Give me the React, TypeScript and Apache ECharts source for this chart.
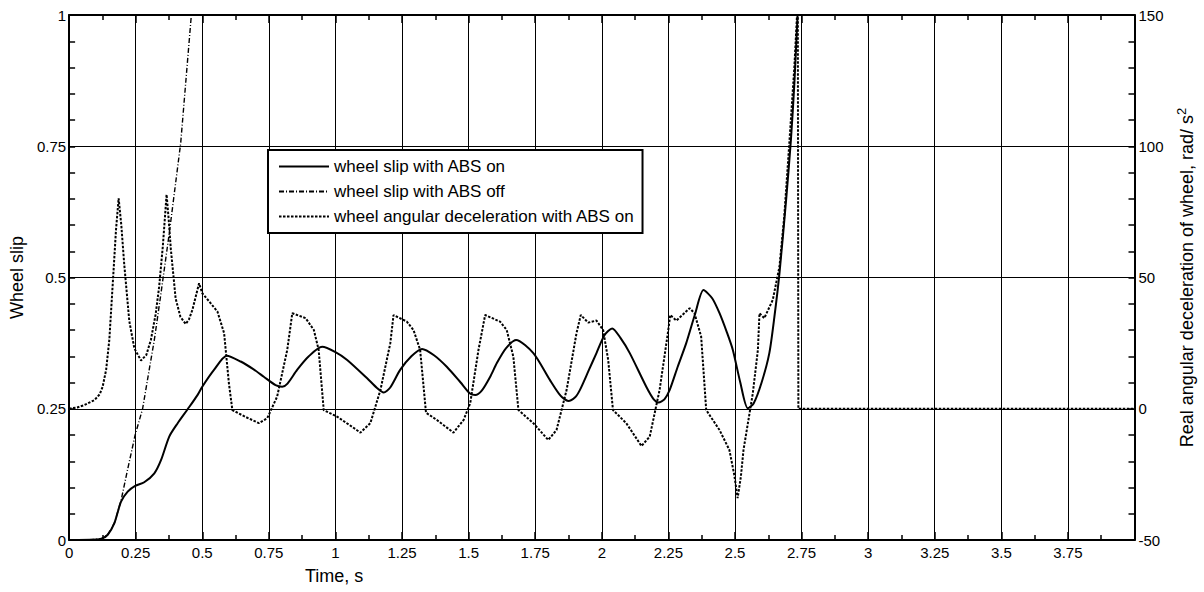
import React, { useEffect, useRef } from "react";
import * as echarts from "echarts";

// ---- Data ----
const timeTickLabels = ["0", "0.25", "0.5", "0.75", "1", "1.25", "1.5", "1.75", "2", "2.25", "2.5", "2.75", "3", "3.25", "3.5", "3.75"];
const slipTickLabels = ["0", "0.25", "0.5", "0.75", "1"];
const decelTickLabels = ["-50", "0", "50", "100", "150"];

const seriesNames = [
  "wheel slip with ABS on",
  "wheel slip with ABS off",
  "wheel angular deceleration with ABS on",
];

// wheel slip with ABS on  [time s, slip]
const slipAbsOn: [number, number][] = [
  [0, 0], [0.1, 0.001], [0.124, 0.003], [0.145, 0.01], [0.17, 0.032], [0.195, 0.073], [0.22, 0.092],
  [0.248, 0.103], [0.282, 0.11], [0.32, 0.127], [0.345, 0.152], [0.376, 0.197], [0.407, 0.222],
  [0.445, 0.249], [0.482, 0.276], [0.5, 0.292], [0.544, 0.324], [0.592, 0.351], [0.644, 0.34],
  [0.69, 0.326], [0.731, 0.311], [0.775, 0.295], [0.8, 0.292], [0.82, 0.298], [0.856, 0.324],
  [0.9, 0.35], [0.95, 0.368], [1.0, 0.358], [1.044, 0.343], [1.119, 0.308], [1.155, 0.29],
  [1.181, 0.281], [1.205, 0.29], [1.243, 0.324], [1.285, 0.35], [1.325, 0.364], [1.37, 0.352],
  [1.418, 0.33], [1.47, 0.3], [1.505, 0.279], [1.525, 0.276], [1.55, 0.285], [1.58, 0.31],
  [1.606, 0.337], [1.64, 0.365], [1.678, 0.381], [1.743, 0.356], [1.805, 0.305], [1.845, 0.275],
  [1.874, 0.265], [1.9, 0.272], [1.918, 0.286], [1.95, 0.322], [1.98, 0.356], [2.01, 0.39],
  [2.039, 0.403], [2.07, 0.385], [2.105, 0.356], [2.167, 0.292], [2.195, 0.268], [2.213, 0.262],
  [2.235, 0.268], [2.255, 0.286], [2.285, 0.33], [2.317, 0.375], [2.35, 0.43], [2.382, 0.476],
  [2.415, 0.46], [2.442, 0.432], [2.47, 0.395], [2.492, 0.362], [2.52, 0.3], [2.548, 0.251],
  [2.57, 0.26], [2.6, 0.3], [2.629, 0.356], [2.648, 0.425], [2.667, 0.508], [2.692, 0.648],
  [2.71, 0.762], [2.723, 0.87], [2.735, 1.0],
];

// wheel slip with ABS off  [time s, slip]
const slipAbsOff: [number, number][] = [
  [0, 0], [0.1, 0.001], [0.124, 0.003], [0.145, 0.01], [0.17, 0.032], [0.195, 0.075], [0.22, 0.135],
  [0.248, 0.2], [0.276, 0.25], [0.3, 0.322], [0.32, 0.381], [0.345, 0.47], [0.376, 0.584],
  [0.4, 0.68], [0.419, 0.756], [0.44, 0.884], [0.459, 1.0],
];

// wheel angular deceleration with ABS on  [time s, rad/s^2]
const decelAbsOn: [number, number][] = [
  [0, 0], [0.03, 0.5], [0.057, 1.4], [0.095, 3.3], [0.115, 5.5], [0.126, 8.4], [0.139, 14.8],
  [0.151, 26.2], [0.164, 47.8], [0.176, 68], [0.186, 80.2], [0.196, 70], [0.207, 55], [0.226, 33.4],
  [0.245, 23], [0.27, 18.4], [0.29, 20.5], [0.307, 26.2], [0.325, 36], [0.338, 46.4], [0.352, 62],
  [0.366, 81.6], [0.374, 72], [0.382, 60.8], [0.4, 42], [0.418, 35], [0.438, 32.3], [0.45, 34],
  [0.463, 37.7], [0.488, 47.8], [0.5, 44], [0.525, 41], [0.557, 37], [0.582, 28.8], [0.6, 9.7],
  [0.613, -0.5], [0.66, -3], [0.713, -5.5], [0.744, -3.6], [0.781, 4.6], [0.819, 22.4],
  [0.838, 36.4], [0.888, 34.5], [0.919, 30], [0.937, 22.4], [0.956, -0.5], [1.006, -3],
  [1.05, -6], [1.094, -9.1], [1.131, -5.5], [1.169, 7.2], [1.206, 25], [1.218, 35.7],
  [1.268, 33.2], [1.293, 30], [1.318, 22.4], [1.34, -1.5], [1.381, -4.3], [1.443, -9.1],
  [1.481, -4.3], [1.506, 2.1], [1.537, 22.4], [1.562, 35.7], [1.618, 33.2], [1.643, 30],
  [1.668, 19.8], [1.687, -0.5], [1.743, -5.5], [1.799, -11.9], [1.83, -8.1], [1.868, 7.2],
  [1.905, 28.8], [1.921, 35.7], [1.949, 32.8], [1.98, 33.6], [2.005, 30], [2.024, 18.6],
  [2.042, -0.5], [2.092, -5.5], [2.149, -14.2], [2.18, -10.6], [2.217, 7.2], [2.248, 28.8],
  [2.257, 35.7], [2.28, 33.6], [2.33, 38.3], [2.348, 36.4], [2.373, 27.5], [2.392, -0.5],
  [2.442, -8.1], [2.479, -15.7], [2.497, -25], [2.51, -34], [2.522, -26], [2.532, -15.7],
  [2.567, 5.9], [2.586, 22.4], [2.592, 36.4], [2.61, 34.5], [2.642, 41.5], [2.667, 54.1],
  [2.685, 73.2], [2.704, 101.1], [2.723, 130.3], [2.733, 150], [2.736, 150], [2.738, 0], [4, 0],
];

const FONT = "'Liberation Sans', Arial, sans-serif";

export default function App() {
  const ref = useRef<HTMLDivElement>(null);

  useEffect(() => {
    if (!ref.current) return;
    const chart = echarts.init(ref.current, undefined, { renderer: "svg" });

    const axisLine = { show: true, onZero: false, lineStyle: { color: "#000", width: 2 } };
    const labelStyle = { color: "#000", fontSize: 15, fontFamily: FONT };

    chart.setOption({
      animation: false,
      backgroundColor: "#fff",
      textStyle: { fontFamily: FONT, color: "#000" },
      grid: { left: 68, right: 68, top: 15, bottom: 52, containLabel: false },
      legend: {
        data: seriesNames,
        orient: "vertical",
        left: 268,
        top: 150,
        backgroundColor: "#fff",
        borderColor: "#000",
        borderWidth: 2,
        borderRadius: 0,
        padding: [8, 8, 8, 10],
        itemGap: 8,
        itemWidth: 50,
        itemHeight: 15,
        itemStyle: { opacity: 0 },
        textStyle: { fontSize: 17, color: "#000", fontFamily: FONT },
      },
      xAxis: [
        {
          type: "value",
          min: 0,
          max: 4,
          interval: 0.25,
          position: "bottom",
          axisLine,
          axisTick: { show: true, inside: true, length: 8, lineStyle: { color: "#000", width: 1.5 } },
          minorTick: { show: true, splitNumber: 2, length: 5, lineStyle: { color: "#000", width: 1.5 } },
          splitLine: { show: true, lineStyle: { color: "#000", width: 1 } },
          axisLabel: {
            ...labelStyle,
            margin: 5,
            formatter: (v: number) => {
              const i = Math.round(v / 0.25);
              return i < timeTickLabels.length ? timeTickLabels[i] : "";
            },
          },
        },
        {
          type: "value",
          min: 0,
          max: 4,
          interval: 0.25,
          position: "top",
          axisLine,
          axisTick: { show: true, inside: true, length: 8, lineStyle: { color: "#000", width: 1.5 } },
          minorTick: { show: true, splitNumber: 2, length: 5, lineStyle: { color: "#000", width: 1.5 } },
          splitLine: { show: false },
          axisLabel: { show: false },
        },
      ],
      yAxis: [
        {
          type: "value",
          min: 0,
          max: 1,
          interval: 0.25,
          position: "left",
          name: "Wheel slip",
          nameLocation: "middle",
          nameRotate: 90,
          nameGap: 38,
          nameTextStyle: { fontSize: 18, color: "#000", fontFamily: FONT },
          axisLine,
          axisTick: { show: true, inside: true, length: 6, lineStyle: { color: "#000", width: 1.5 } },
          minorTick: { show: true, splitNumber: 5, length: 6, lineStyle: { color: "#000", width: 1.5 } },
          splitLine: { show: true, lineStyle: { color: "#000", width: 1 } },
          axisLabel: {
            ...labelStyle,
            margin: 3,
            formatter: (v: number) => slipTickLabels[Math.round(v / 0.25)] ?? "",
          },
        },
        {
          type: "value",
          min: -50,
          max: 150,
          interval: 50,
          position: "right",
          name: "Real angular deceleration of wheel, rad/ s{sup|2}",
          nameLocation: "middle",
          nameRotate: 90,
          nameGap: 40,
          nameTextStyle: {
            fontSize: 18,
            color: "#000",
            fontFamily: FONT,
            rich: { sup: { fontSize: 13, color: "#000", fontFamily: FONT, padding: [0, 0, 12, 0] } },
          },
          axisLine,
          axisTick: { show: true, inside: true, length: 6, lineStyle: { color: "#000", width: 1.5 } },
          minorTick: { show: true, splitNumber: 5, length: 6, lineStyle: { color: "#000", width: 1.5 } },
          splitLine: { show: false },
          axisLabel: {
            ...labelStyle,
            margin: 4,
            formatter: (v: number) => decelTickLabels[Math.round((v + 50) / 50)] ?? "",
          },
        },
      ],
      graphic: [
        {
          type: "text",
          left: 305,
          top: 567,
          style: { text: "Time, s", fontSize: 18, fill: "#000", fontFamily: FONT },
        },
      ],
      series: [
        {
          name: seriesNames[0],
          type: "line",
          xAxisIndex: 0,
          yAxisIndex: 0,
          data: slipAbsOn,
          symbol: "none",
          smooth: 0.25,
          clip: true,
          lineStyle: { color: "#000", width: 2, type: "solid" },
          itemStyle: { color: "#000" },
          z: 5,
        },
        {
          name: seriesNames[1],
          type: "line",
          xAxisIndex: 0,
          yAxisIndex: 0,
          data: slipAbsOff,
          symbol: "none",
          clip: true,
          lineStyle: { color: "#000", width: 1.4, type: [5, 2, 1, 2] },
          itemStyle: { color: "#000" },
          z: 4,
        },
        {
          name: seriesNames[2],
          type: "line",
          xAxisIndex: 0,
          yAxisIndex: 1,
          data: decelAbsOn,
          symbol: "none",
          clip: true,
          lineStyle: { color: "#000", width: 2, type: [2.5, 1.5] },
          itemStyle: { color: "#000" },
          z: 3,
        },
      ],
    });

    return () => chart.dispose();
  }, []);

  return (
    <div
      ref={ref}
      style={{ position: "absolute", left: 0, top: 0, width: 1204, height: 592, background: "#fff" }}
    />
  );
}
